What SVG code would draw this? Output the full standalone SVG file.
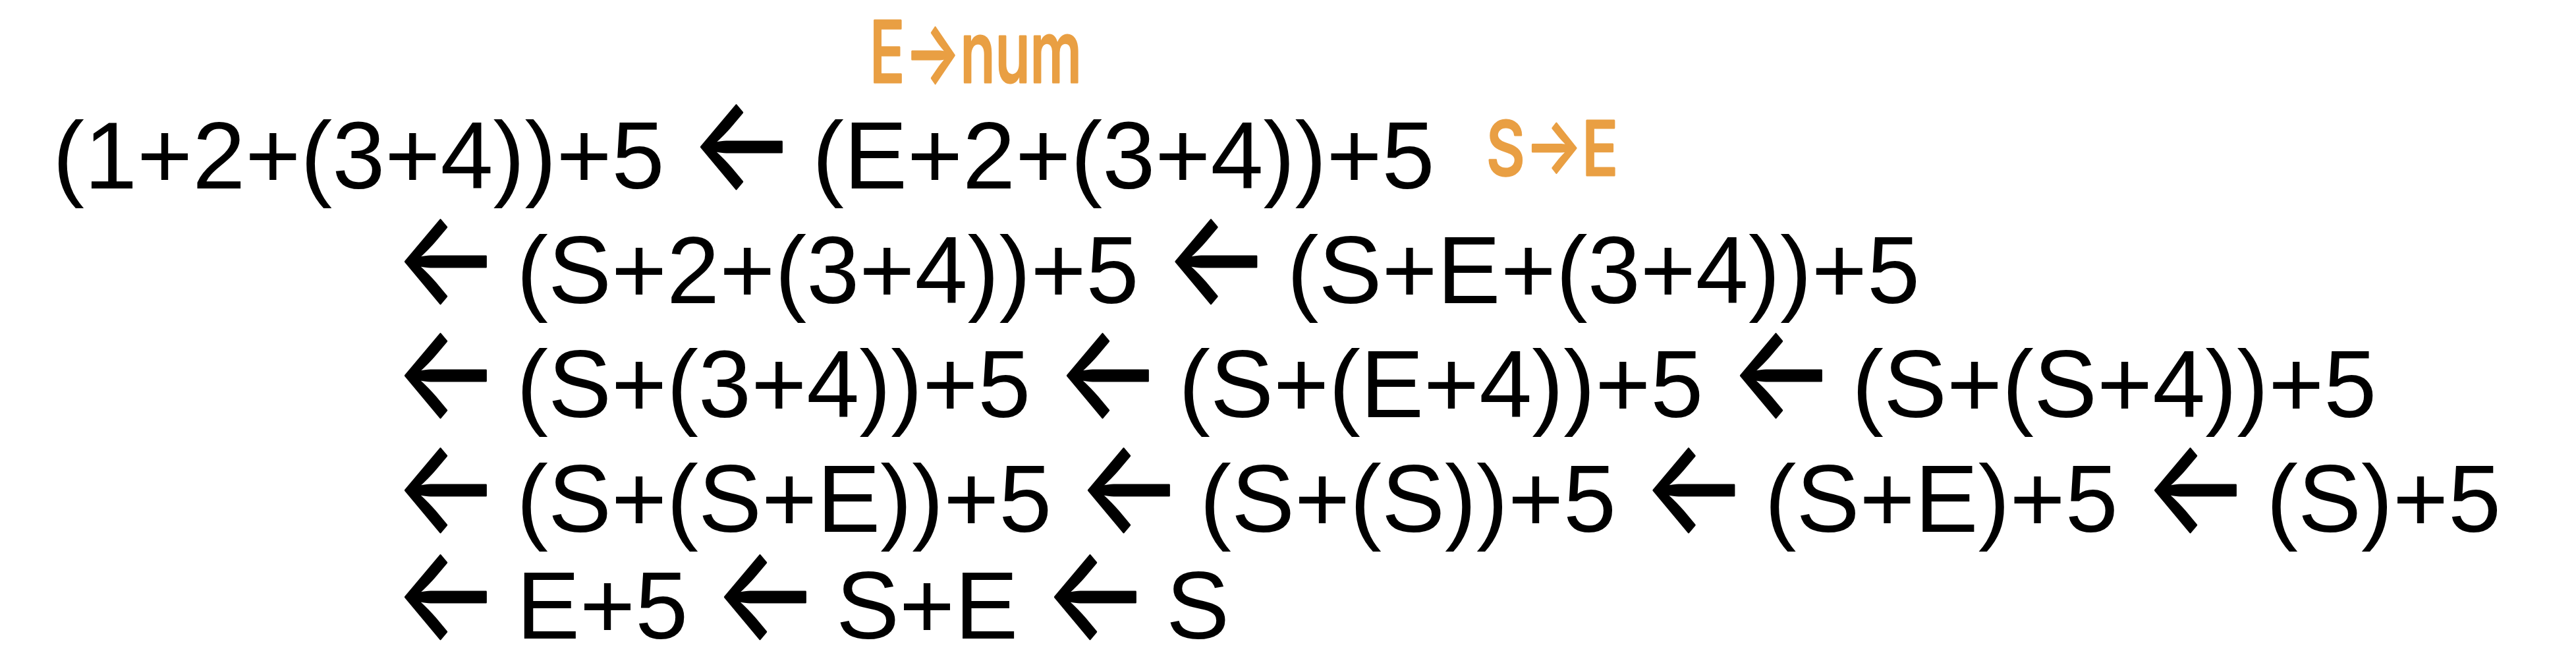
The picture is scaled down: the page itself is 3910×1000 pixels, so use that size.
<svg xmlns="http://www.w3.org/2000/svg" width="3910" height="1000" viewBox="0 0 3910 1000">
<style>
.ex{font-family:"Liberation Sans",Arial,sans-serif;font-size:144px;fill:#000}
.ar{font-family:Inter,"DejaVu Sans",sans-serif;font-size:1000px;fill:#000;stroke:#000;stroke-width:14;stroke-linejoin:round}
.note{font-family:Inter,"Liberation Sans",sans-serif;fill:#E99F43;stroke:#E99F43;stroke-width:3;stroke-linejoin:round;font-weight:500}
</style>
<rect width="3910" height="1000" fill="#fff"/>
<g id="notes">
<text class="note" x="1320" y="125" font-size="129" textLength="322" lengthAdjust="spacingAndGlyphs">E→num</text>
<text class="note" x="2256" y="266" font-size="114" textLength="200" lengthAdjust="spacingAndGlyphs">S→E</text>
</g>
<g id="n1"><text class="ex" x="80" y="286">(1+2+(3+4))+5</text></g>
<g id="n2"><text class="ex" x="1233" y="286">(E+2+(3+4))+5</text></g>
<g id="n3"><text class="ex" x="784" y="460">(S+2+(3+4))+5</text></g>
<g id="n4"><text class="ex" x="1953.5" y="460">(S+E+(3+4))+5</text></g>
<g id="n5"><text class="ex" x="784" y="633">(S+(3+4))+5</text></g>
<g id="n6"><text class="ex" x="1789" y="633">(S+(E+4))+5</text></g>
<g id="n7"><text class="ex" x="2811" y="633">(S+(S+4))+5</text></g>
<g id="n8"><text class="ex" x="784" y="807">(S+(S+E))+5</text></g>
<g id="n9"><text class="ex" x="1821" y="807">(S+(S))+5</text></g>
<g id="n10"><text class="ex" x="2678.5" y="807">(S+E)+5</text></g>
<g id="n11"><text class="ex" x="3440" y="807">(S)+5</text></g>
<g id="n12"><text class="ex" x="784" y="969">E+5</text></g>
<g id="n13"><text class="ex" x="1269" y="969">S+E</text></g>
<g id="n14"><text class="ex" x="1770" y="969">S</text></g>
<g id="connectors">
<text class="ar" transform="matrix(0.168,0,0,0.2,1047.5,287.4)">←</text>
<text class="ar" transform="matrix(0.168,0,0,0.2,598.5,461.4)">←</text>
<text class="ar" transform="matrix(0.168,0,0,0.2,1768,461.4)">←</text>
<text class="ar" transform="matrix(0.168,0,0,0.2,598.5,634.4)">←</text>
<text class="ar" transform="matrix(0.168,0,0,0.2,1603.5,634.4)">←</text>
<text class="ar" transform="matrix(0.168,0,0,0.2,2625.5,634.4)">←</text>
<text class="ar" transform="matrix(0.168,0,0,0.2,598.5,808.4)">←</text>
<text class="ar" transform="matrix(0.168,0,0,0.2,1635.5,808.4)">←</text>
<text class="ar" transform="matrix(0.168,0,0,0.2,2493,808.4)">←</text>
<text class="ar" transform="matrix(0.168,0,0,0.2,3254.5,808.4)">←</text>
<text class="ar" transform="matrix(0.168,0,0,0.2,598.5,970.4)">←</text>
<text class="ar" transform="matrix(0.168,0,0,0.2,1083.5,970.4)">←</text>
<text class="ar" transform="matrix(0.168,0,0,0.2,1584.5,970.4)">←</text>
</g>
</svg>
